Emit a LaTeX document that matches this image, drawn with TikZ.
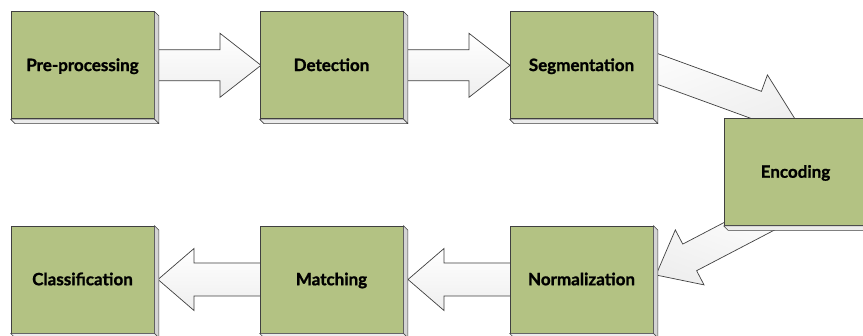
\documentclass[tikz,border=0pt]{standalone}
\usepackage{fontspec}
\setmainfont{Lato}[BoldFeatures={FakeBold=1.2}]
\usetikzlibrary{calc}
\definecolor{boxgreen}{HTML}{B3C283}
\definecolor{edge}{HTML}{404040}
\definecolor{sidegray}{HTML}{D4D4D4}
\definecolor{bottomgray}{HTML}{ECECEC}
\tikzset{
  stagebox/.style={rectangle, draw=edge, line width=0.8pt, fill=boxgreen,
    minimum width=143pt, minimum height=107pt, inner sep=0pt,
    text height=14pt, text depth=2.5pt,
    font=\fontsize{17}{20}\selectfont\bfseries},
  bevelface/.style={draw=edge, line width=0.6pt, line join=round},
  blockarr/.style={draw=edge, line width=0.7pt, line join=miter,
    top color=white, bottom color=gray!13}
}
% #1 tail, #2 tip, #3 shaft half width, #4 head half width, #5 head length, #6 shading angle
\newcommand\blockarrow[6]{%
  \coordinate (nk) at ($(#2)!#5!(#1)$);
  \draw[blockarr, shading angle=#6]
    ($(#1)!#3!90:(#2)$) -- ($(nk)!#3!-90:(#1)$) -- ($(nk)!#4!-90:(#1)$) -- (#2)
    -- ($(nk)!#4!90:(#1)$) -- ($(nk)!#3!90:(#1)$) -- ($(#1)!#3!-90:(#2)$) -- cycle;
}
\newcommand\bevel[1]{%
  \draw[bevelface, fill=sidegray] (#1.north east) -- ($(#1.north east)+(4.5,4.5)$)
    -- ($(#1.south east)+(4.5,4.5)$) -- (#1.south east) -- cycle;
  \draw[bevelface, fill=bottomgray] (#1.south west) -- ($(#1.south west)+(4.5,4.5)$)
    -- ($(#1.south east)+(4.5,4.5)$) -- (#1.south east) -- cycle;
}
\begin{document}
\begin{tikzpicture}[x=1pt,y=-1pt]
\useasboundingbox (0,0) rectangle (863,336);
\clip (0,0) rectangle (863,336);
\fill[white] (0,0) rectangle (863,336);
% box centres
\path (82.5,65.3) coordinate (c1) (331.5,65.3) coordinate (c2) (581.5,65.3) coordinate (c3)
      (795.5,172) coordinate (c4) (581.5,279.5) coordinate (c5) (331.5,279.5) coordinate (c6)
      (82.5,279.5) coordinate (c7);
% arrow ends (arrows drawn beneath the boxes)
\coordinate (t1) at (261,65.3);
\coordinate (t2) at (510,65.3);
\coordinate (s3) at (600,48);
\coordinate (t3) at (795,119);
\coordinate (s4) at (790,205);
\coordinate (t4) at (656,275);
\coordinate (t5) at (408,279.5);
\coordinate (t6) at (158,279.5);
\blockarrow{c1}{t1}{15.5pt}{32pt}{41pt}{0}
\blockarrow{c2}{t2}{15.5pt}{32pt}{41pt}{0}
\blockarrow{s3}{t3}{14.5pt}{32pt}{41pt}{20}
\blockarrow{s4}{t4}{15pt}{31pt}{38pt}{-20}
\blockarrow{c5}{t5}{16.5pt}{31pt}{36pt}{0}
\blockarrow{c6}{t6}{16.5pt}{31pt}{36pt}{0}
% boxes
\foreach \n/\c/\t in {pre/c1/Pre-processing, det/c2/Detection, seg/c3/Segmentation,
   enc/c4/Encoding, nor/c5/Normalization, mat/c6/Matching, cla/c7/Classification}{
  \node[stagebox] (\n) at (\c) {\t};
  \bevel{\n}
}
\end{tikzpicture}
\end{document}
